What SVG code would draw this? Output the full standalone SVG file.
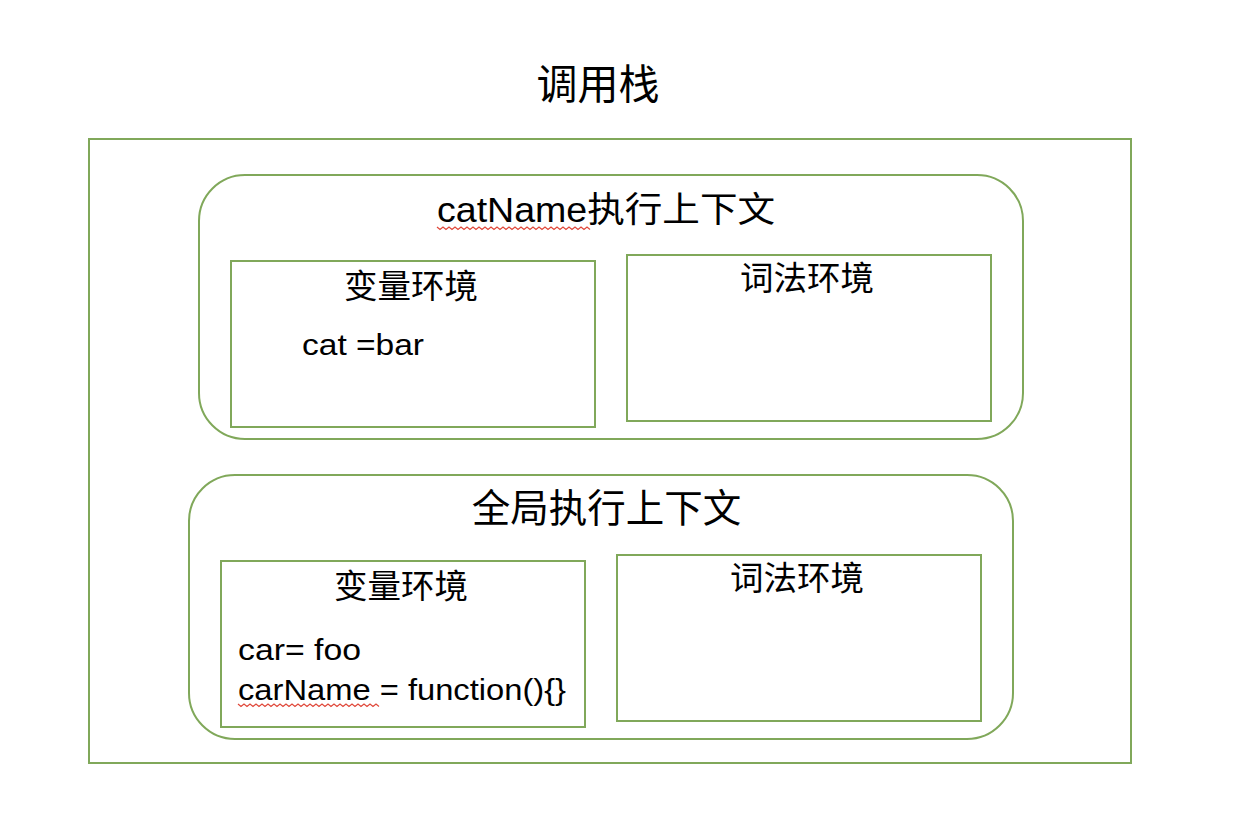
<svg xmlns="http://www.w3.org/2000/svg" width="1236" height="836" viewBox="0 0 1236 836">
<style>
.box{fill:none;stroke:#80a85a;stroke-width:2}
.t{font-family:"Liberation Sans","Noto Sans CJK SC",sans-serif;fill:#000}
.lbl{font-size:33.5px;text-anchor:middle}
.squig{fill:none;stroke:#e0483a;stroke-width:1.2}
</style>
<rect width="1236" height="836" fill="#fff"/>
<text class="t" x="598" y="99" font-size="41" text-anchor="middle">调用栈</text>
<g id="stack"><rect class="box" x="89" y="139" width="1042" height="624"/></g>
<g id="ctx-catName">
<rect class="box" x="199" y="175" width="824" height="264" rx="46" ry="46"/>
<text class="t" x="437" y="222" font-size="35" textLength="338" lengthAdjust="spacingAndGlyphs">catName执行上下文</text>
<path class="squig" d="M437 227 l3 2.5 l3 -2.5 l3 2.5 l3 -2.5 l3 2.5 l3 -2.5 l3 2.5 l3 -2.5 l3 2.5 l3 -2.5 l3 2.5 l3 -2.5 l3 2.5 l3 -2.5 l3 2.5 l3 -2.5 l3 2.5 l3 -2.5 l3 2.5 l3 -2.5 l3 2.5 l3 -2.5 l3 2.5 l3 -2.5 l3 2.5 l3 -2.5 l3 2.5 l3 -2.5 l3 2.5 l3 -2.5 l3 2.5 l3 -2.5 l3 2.5 l3 -2.5 l3 2.5 l3 -2.5 l3 2.5 l3 -2.5 l3 2.5 l3 -2.5 l3 2.5 l3 -2.5 l3 2.5 l3 -2.5 l3 2.5 l3 -2.5 l3 2.5 l3 -2.5 l3 2.5 l3 -2.5 l3 2.5"/>
</g>
<g id="var-env-1">
<rect class="box" x="231" y="261" width="364" height="166"/>
<text class="t lbl" x="411" y="298">变量环境</text>
<text class="t" x="302" y="355" font-size="30" textLength="122" lengthAdjust="spacingAndGlyphs">cat =bar</text>
</g>
<g id="lex-env-1">
<rect class="box" x="627" y="255" width="364" height="166"/>
<text class="t lbl" x="807" y="290">词法环境</text>
</g>
<g id="ctx-global">
<rect class="box" x="189" y="475" width="824" height="264" rx="46" ry="46"/>
<text class="t" x="606.5" y="522" font-size="38.5" text-anchor="middle">全局执行上下文</text>
</g>
<g id="var-env-2">
<rect class="box" x="221" y="561" width="364" height="166"/>
<text class="t lbl" x="401" y="598">变量环境</text>
<text class="t" x="238" y="660" font-size="30" textLength="123" lengthAdjust="spacingAndGlyphs">car= foo</text>
<text class="t" x="238" y="700" font-size="30" textLength="328" lengthAdjust="spacingAndGlyphs">carName = function(){}</text>
<path class="squig" d="M238 704 l3 2.5 l3 -2.5 l3 2.5 l3 -2.5 l3 2.5 l3 -2.5 l3 2.5 l3 -2.5 l3 2.5 l3 -2.5 l3 2.5 l3 -2.5 l3 2.5 l3 -2.5 l3 2.5 l3 -2.5 l3 2.5 l3 -2.5 l3 2.5 l3 -2.5 l3 2.5 l3 -2.5 l3 2.5 l3 -2.5 l3 2.5 l3 -2.5 l3 2.5 l3 -2.5 l3 2.5 l3 -2.5 l3 2.5 l3 -2.5 l3 2.5 l3 -2.5 l3 2.5 l3 -2.5 l3 2.5 l3 -2.5 l3 2.5 l3 -2.5 l3 2.5 l3 -2.5 l3 2.5 l3 -2.5 l3 2.5 l3 -2.5 l3 2.5"/>
</g>
<g id="lex-env-2">
<rect class="box" x="617" y="555" width="364" height="166"/>
<text class="t lbl" x="797" y="590">词法环境</text>
</g>
<g id="connectors"></g>
</svg>
